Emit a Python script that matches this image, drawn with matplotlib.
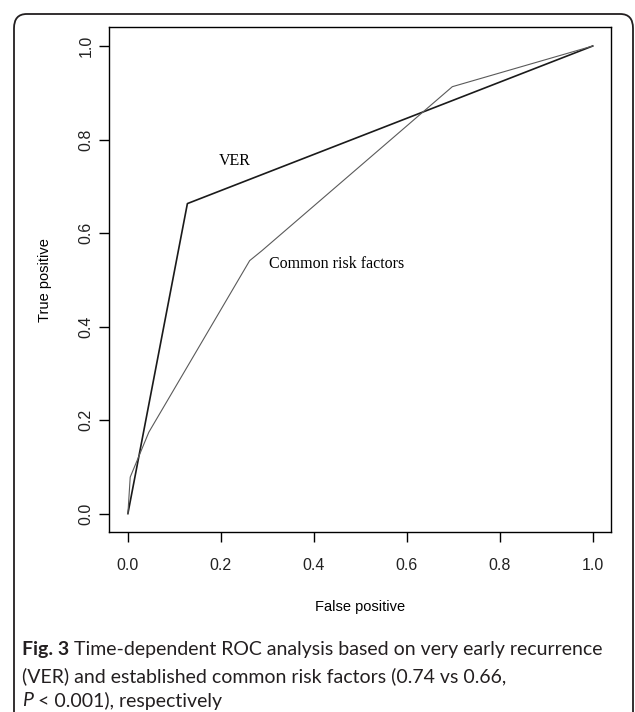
import numpy as np
import matplotlib.pyplot as plt
from matplotlib.patches import FancyBboxPatch

# ROC points
ver_fp = [0.0, 0.128, 1.0]
ver_tp = [0.0, 0.663, 1.0]

crf_fp = [0.0, 0.005, 0.045, 0.262, 0.288, 0.698, 1.0]
crf_tp = [0.0, 0.078, 0.174, 0.541, 0.562, 0.913, 1.0]

ticks = [0.0, 0.2, 0.4, 0.6, 0.8, 1.0]
tick_labels = ["0.0", "0.2", "0.4", "0.6", "0.8", "1.0"]

W, H = 635, 712
fig = plt.figure(figsize=(W / 100, H / 100), dpi=100)

# rounded frame around the whole figure (bottom runs off the image)
frame = FancyBboxPatch((14 / W, -30 / H), (633 - 14) / W, (H - 14 + 30) / H,
                       boxstyle="round,pad=0,rounding_size=0.02",
                       transform=fig.transFigure, fill=False,
                       edgecolor="#231f20", linewidth=1.3)
fig.patches.append(frame)

ax = fig.add_axes([109.3 / W, 1 - 532.3 / H, 502 / W, 505 / H])

ax.plot(ver_fp, ver_tp, color="#1a1a1a", linewidth=1.2)
ax.plot(crf_fp, crf_tp, color="#5a5a5a", linewidth=0.8)

ax.text(0.23, 0.755, "VER", family="Liberation Serif", fontsize=11.5,
        ha="center", va="center")
ax.text(0.449, 0.5335, "Common risk factors", family="Liberation Serif",
        fontsize=11.5, ha="center", va="center")

ax.set_xlim(-0.04, 1.04)
ax.set_ylim(-0.04, 1.04)
ax.set_xticks(ticks)
ax.set_xticklabels(tick_labels)
ax.set_yticks(ticks)
ax.set_yticklabels(tick_labels, rotation=90, va="center")

for lbl in ax.get_xticklabels() + ax.get_yticklabels():
    lbl.set_family("Liberation Sans")
    lbl.set_fontsize(11.5)
    lbl.set_color("#222222")

ax.tick_params(axis="x", length=7.5, width=1, pad=11)
ax.tick_params(axis="y", length=7.5, width=1, pad=4)
for s in ax.spines.values():
    s.set_linewidth(1)

ax.set_xlabel("False positive", family="Liberation Sans", fontsize=10.5)
ax.set_ylabel("True positive", family="Liberation Sans", fontsize=10.5)
ax.xaxis.set_label_coords(0.5, -0.135)
ax.yaxis.set_label_coords(-0.114, 0.5)

# caption
cap_font = dict(family="Lato", fontsize=14, color="#231f20", va="center")
x0 = 22 / W
renderer = fig.canvas.get_renderer()

t = fig.text(x0, 1 - 650 / H, "Fig. 3", fontweight="bold", **cap_font)
bb = t.get_window_extent(renderer)
fig.text((bb.x1 + 5) / W, 1 - 650 / H,
         "Time-dependent ROC analysis based on very early recurrence",
         **cap_font)
fig.text(x0, 1 - 676 / H,
         "(VER) and established common risk factors (0.74 vs 0.66,",
         **cap_font)
t = fig.text(x0, 1 - 701 / H, "P", style="italic", **cap_font)
bb = t.get_window_extent(renderer)
fig.text((bb.x1 + 5) / W, 1 - 701 / H, "< 0.001), respectively", **cap_font)

fig.savefig("out.png", dpi=100)
